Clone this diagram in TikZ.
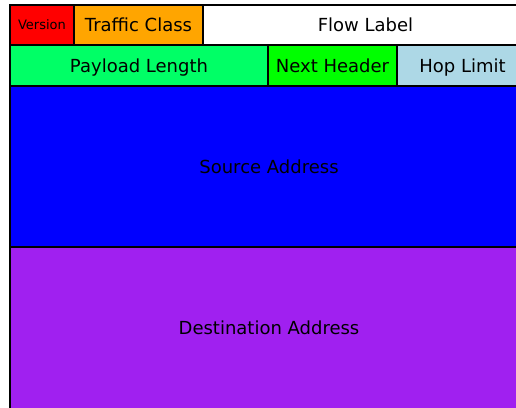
\documentclass[tikz,border=0pt]{standalone}
\usepackage{fontspec}
\setmainfont{DejaVu Sans}
\definecolor{cver}{HTML}{FF0000}
\definecolor{ctc}{HTML}{FFA500}
\definecolor{cpl}{HTML}{00FF66}
\definecolor{cnh}{HTML}{00FF00}
\definecolor{chl}{HTML}{ADD8E6}
\definecolor{csrc}{HTML}{0000FF}
\definecolor{cdst}{HTML}{A020F0}
\begin{document}
\begin{tikzpicture}[x=1pt,y=-1pt,
  cell/.style={draw=black, line width=1.5pt, anchor=north west, inner sep=0pt, outer sep=0pt,
    font=\fontsize{18}{20}\selectfont, text=black, text height=13.1pt, text depth=0pt},
  small/.style={font=\fontsize{13}{15}\selectfont, text height=9.5pt, text depth=0pt}]
\useasboundingbox (0,0) rectangle (516,407);
\clip (0,0) rectangle (516,407);
\fill[white] (0,0) rectangle (516,407);
\node[cell, fill=cver, small, minimum width=64pt, minimum height=40pt] (ver) at (10,5) {Version};
\node[cell, fill=ctc, minimum width=129pt, minimum height=40pt] (tc) at (74,5) {Traffic Class};
\node[cell, fill=white, minimum width=325pt, minimum height=40pt] (fl) at (203,5) {Flow Label};
\node[cell, fill=cpl, minimum width=258pt, minimum height=41pt] (pl) at (10,45) {Payload Length};
\node[cell, fill=cnh, minimum width=129pt, minimum height=41pt] (nh) at (268,45) {Next Header};
\node[cell, fill=chl, minimum width=131pt, minimum height=41pt] (hl) at (397,45) {Hop Limit};
\node[cell, fill=csrc, minimum width=518pt, minimum height=161pt] (src) at (10,86) {Source Address};
\node[cell, fill=cdst, minimum width=518pt, minimum height=162pt] (dst) at (10,247) {Destination Address};
\end{tikzpicture}
\end{document}
